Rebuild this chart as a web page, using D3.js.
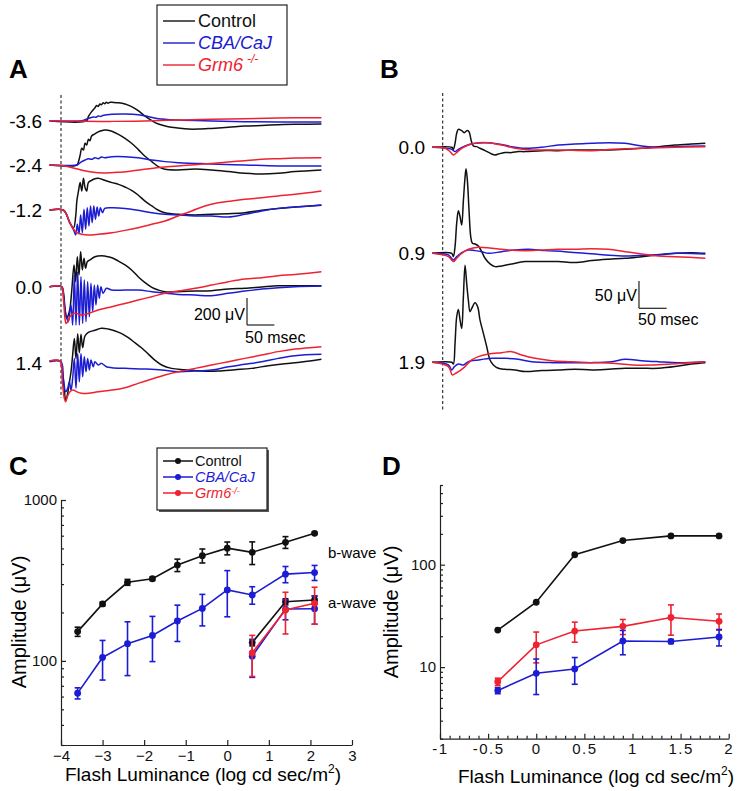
<!DOCTYPE html>
<html><head><meta charset="utf-8">
<script src="https://cdn.jsdelivr.net/npm/d3@7"></script>
<style>
body{margin:0;background:#fff}
svg{display:block;font-family:"Liberation Sans",Arial,Helvetica,sans-serif}
</style>
</head><body>
<svg id="fig" width="744" height="791"></svg>
<script>
// ---------------- DATA ----------------
const seriesNames = ["Control", "CBA/CaJ", "Grm6"];
const seriesColors = ["#111111", "#1c1cd2", "#ee2230"];

// Panel A: flash levels (log cd s/m2) and traces [time ms, amplitude µV]
const levelsA = ["-3.6", "-2.4", "-1.2", "0.0", "1.4"];
const aCtrl_m36 = [[-21,0],[47,0],[50,30],[56,67],[62,95],[65,112],[68,106],[71,124],[74,118],[77,133],[80,126],[83,136],[86,130],[90,137],[93,136],[105,133],[117,124],[129,104],[141,74],[153,35],[166,0],[178,-25],[196,-44],[214,-54],[233,-62],[251,-62],[275,-57],[306,-49],[336,-40],[367,-35],[397,-30],[428,-27],[476,-25]];
const aCba_m36 = [[-21,0],[38,0],[50,17],[60,28],[64,25],[68,35],[72,32],[78,40],[93,47],[117,49],[141,44],[160,30],[178,15],[214,5],[275,-2],[336,-7],[397,-10],[476,-10]];
const aGrm_m36 = [[-21,0],[32,-3],[93,-5],[153,-2],[214,5],[275,10],[336,15],[397,20],[476,22]];

const aCtrl_m24 = [[-21,0],[29,0],[32,25],[35,74],[38,124],[41,111],[44,161],[47,148],[50,190],[53,180],[56,215],[62,230],[68,245],[74,254],[80,259],[86,257],[93,250],[105,227],[117,198],[129,161],[141,116],[153,67],[166,25],[178,-12],[190,-32],[214,-37],[245,-30],[275,-37],[306,-49],[336,-62],[367,-67],[397,-62],[428,-49],[476,-37]];
const aCba_m24 = [[-21,0],[29,0],[32,7],[38,25],[44,37],[50,47],[56,42],[62,54],[68,47],[74,59],[80,54],[93,62],[117,62],[141,54],[166,37],[190,25],[214,17],[245,12],[275,7],[336,0],[397,-7],[476,-7]];
const aGrm_m24 = [[-21,0],[7,-7],[32,-32],[56,-52],[80,-59],[105,-54],[129,-44],[153,-32],[184,-17],[214,-7],[245,2],[275,12],[306,22],[336,32],[367,42],[397,47],[428,52],[476,54]];

const aCtrl_m12 = [[-21,0],[4,0],[10,-32],[16,-94],[23,-131],[27,-40],[29,67],[32,141],[35,203],[38,141],[41,235],[44,165],[47,141],[50,203],[56,220],[62,232],[68,235],[80,220],[93,203],[105,190],[117,170],[129,146],[141,111],[153,67],[166,30],[178,-2],[190,-20],[214,-32],[245,-37],[275,-32],[306,-27],[336,-20],[367,-2],[397,12],[428,22],[476,35]];
const aCba_m12 = [[-21,0],[4,0],[10,-32],[16,-94],[19.5,-119],[23.8,-156],[26.8,-185],[29.8,-106],[32.9,-175],[35.9,-37],[39,-168],[42,5],[45,-143],[48,17],[51,-119],[54,30],[57,-94],[60,30],[63,-69],[66,22],[69,-44],[72,17],[76,-20],[80,12],[93,17],[117,12],[141,-2],[166,-20],[190,-32],[214,-37],[245,-44],[275,-44],[306,-52],[336,-32],[367,-7],[397,12],[428,22],[476,37]];
const aGrm_m12 = [[-21,0],[4,0],[10,-32],[16,-94],[23,-143],[29,-168],[38,-180],[50,-185],[68,-180],[93,-168],[117,-151],[141,-131],[166,-106],[190,-82],[214,-44],[239,-7],[263,30],[287,54],[312,67],[336,79],[367,91],[397,104],[428,116],[476,141]];

const aCtrl_00 = [[-21,0],[1.2,0],[4.3,-37],[7.3,-161],[10.4,-235],[13.4,-210],[16.4,-161],[19.5,-37],[23.8,161],[26.8,37],[29.8,222],[32.9,86],[35.9,259],[39,124],[42,210],[45,136],[48,185],[53,198],[62,222],[74,230],[80,227],[93,215],[105,190],[117,161],[129,124],[141,74],[153,32],[166,-5],[178,-25],[190,-37],[214,-37],[245,-32],[275,-30],[306,-17],[336,-12],[367,-2],[397,7],[428,7],[476,7]];
const aCba_00 = [[-21,0],[1.2,0],[4.3,-60],[7.3,-170],[9.1,-210],[13.4,-259],[18.3,-136],[21.3,-284],[24.4,86],[27.4,-284],[30.5,111],[33.5,-284],[36.5,74],[39.6,-272],[42.6,49],[45.7,-259],[48.7,37],[51.8,-222],[54.8,25],[57.9,-185],[60.9,12],[63.9,-136],[67,12],[70,-86],[73,0],[77,-49],[83,-12],[93,-25],[117,-25],[141,-25],[166,-37],[190,-49],[214,-57],[245,-62],[275,-67],[306,-49],[336,-32],[367,-17],[397,-7],[428,0],[476,5]];
const aGrm_00 = [[-21,0],[1.2,0],[4.3,-86],[7.3,-235],[9.1,-272],[12.2,-259],[16.4,-222],[22.5,-198],[28.6,-198],[37.8,-210],[50,-198],[68,-173],[93,-148],[117,-124],[141,-99],[166,-74],[190,-49],[214,-32],[245,-12],[275,12],[306,37],[336,57],[367,67],[397,82],[428,91],[476,111]];

const aCtrl_14 = [[-21,12],[-1.8,12],[2.4,-67],[6.1,-203],[8.5,-277],[11.6,-240],[14.6,-165],[18.3,-67],[21.3,57],[24.4,180],[27.4,30],[30.5,215],[33.5,74],[36.5,210],[39.6,111],[43.8,198],[50,225],[62,240],[74,255],[86,250],[99,235],[111,215],[123,185],[135,148],[147,111],[160,62],[172,17],[184,-17],[202,-42],[227,-52],[257,-62],[287,-62],[318,-52],[348,-42],[379,-22],[409,-7],[440,5],[476,25]];
const aCba_14 = [[-21,7],[0,7],[4.3,-116],[8.5,-215],[12.2,-190],[15.2,-141],[18.3,-203],[21.3,-116],[24.4,32],[27.4,-190],[30.5,69],[33.5,-141],[36.5,69],[39.6,-104],[42.6,44],[45.7,-67],[48.7,32],[51.8,-54],[54.8,20],[59,-30],[62,7],[68,-17],[74,-5],[83,-30],[93,-37],[117,-42],[153,-47],[184,-54],[214,-67],[245,-62],[275,-54],[306,-30],[336,-12],[367,7],[397,32],[428,52],[476,62]];
const aGrm_14 = [[-21,12],[-1.8,12],[2.4,-141],[6.1,-264],[8.5,-289],[11.6,-252],[16.4,-215],[22.5,-203],[28.6,-215],[37.8,-227],[50,-227],[68,-215],[93,-203],[117,-185],[141,-153],[166,-121],[190,-91],[214,-67],[245,-42],[275,-17],[306,7],[336,32],[367,57],[397,82],[428,101],[476,119]];

// Panel B
const levelsB = ["0.0", "0.9", "1.9"];
const bCtrl_00 = [[-19,0],[16.3,0],[19.3,-3.7],[22.3,7.3],[25.3,25.6],[28.3,32.9],[34.4,30.5],[39.2,26.8],[43.4,30.5],[47.6,28.6],[51.3,13.4],[55.5,2.4],[61.5,1.2],[67.5,-1.8],[76.6,-6.1],[88.6,-12.2],[94.7,-14],[100.7,-12.2],[112.8,-9.7],[124.8,-9.7],[136.9,-7.9],[148.9,-7.9],[179,-6.1],[209,-6.1],[239,-4.9],[270,-4.9],[300,-4.9],[330,-3.7],[360,-1.8],[390,1.2],[420,4.3],[450,6.1],[475,7.3]];
const bCba_00 = [[-19,0],[16.3,-3.7],[22.3,-7.9],[28.3,-3.7],[40.4,2.4],[58.5,7.3],[76.6,8.5],[100.7,6.1],[124.8,1.2],[148.9,-1.8],[179,0],[209,4.3],[239,6.1],[270,7.3],[300,8.5],[330,7.3],[360,2.4],[390,0],[420,1.2],[475,2.4]];
const bGrm_00 = [[-19,0],[4.2,-1.8],[13.3,-7.9],[19.3,-14],[25.3,-9.7],[34.4,-1.8],[46.4,4.3],[64.5,8.5],[82.6,8.5],[106.7,4.3],[130.9,-1.8],[161,-4.9],[209,-4.9],[270,-6.1],[306,-3.7],[360,-1.8],[420,0],[475,1.2]];

const bCtrl_09 = [[-19,0],[16.3,0],[19.3,-6.1],[22.3,12.2],[25.3,54.8],[28.3,77.9],[31.4,66.9],[34.4,51.8],[37.4,96.2],[40.4,139],[42.2,155],[44.6,134],[47.6,79.2],[50.7,30.5],[53.7,18.3],[58.5,17],[64.5,13.4],[70.6,3],[76.6,-9.1],[85.6,-19.5],[94.7,-24.4],[106.7,-23.1],[124.8,-19.5],[148.9,-15.2],[179,-15.2],[209,-15.2],[239,-17],[270,-13.4],[300,-11],[330,-9.1],[360,-6.1],[390,-3],[420,0],[450,1.2],[475,0]];
const bCba_09 = [[-19,0],[10.3,-3],[19.3,-12.2],[25.3,-6.1],[34.4,1.2],[46.4,6.1],[58.5,4.9],[70.6,3],[82.6,0],[106.7,3],[130.9,6.1],[155,7.3],[185,4.9],[221,3],[257,0],[294,-3],[330,-4.9],[378,-3],[426,0],[475,-1.2]];
const bGrm_09 = [[-19,0],[10.3,-6.1],[19.3,-15.2],[25.3,-9.1],[34.4,0],[46.4,7.3],[64.5,11],[88.6,9.1],[118.8,6.1],[148.9,4.9],[179,6.1],[209,7.3],[239,7.3],[270,8.5],[300,7.3],[330,3],[360,-1.2],[390,-4.9],[420,-6.1],[475,-9.1]];

const bCtrl_19 = [[-19,0],[16.3,0],[19.3,-3],[22.3,34.7],[25.3,83.4],[28.3,96.8],[31.4,77.3],[34.4,62.1],[37.4,119.9],[40.4,177.8],[43.4,144.3],[46.4,113.9],[49.4,92.6],[52.5,98.7],[58.5,109],[63.3,101.5],[67.5,77.3],[73.6,53],[79.6,28.6],[85.6,4.3],[91.7,-4.9],[100.7,-11],[112.8,-12.8],[130.9,-14],[148.9,-17],[179,-15.2],[209,-14],[239,-12.8],[270,-14],[300,-12.8],[330,-11],[360,-11],[390,-11],[420,-7.9],[450,-3],[475,-0.6]];
const bCba_19 = [[-19,0],[10.3,-4.9],[16.3,-14],[21.1,-7.9],[28.3,-3],[37.4,-4.9],[46.4,1.2],[64.5,4.3],[88.6,7.3],[112.8,7.3],[136.9,5.5],[161,1.2],[197,-0.6],[233,-0.6],[270,-0.6],[306,1.2],[330,5.5],[360,3],[390,1.2],[426,-0.6],[475,1.2]];
const bGrm_19 = [[-19,0],[10.3,-7.9],[17.5,-23.1],[23.5,-20.1],[31.4,-15.2],[40.4,-7.9],[52.5,4.3],[64.5,10.4],[82.6,15.2],[106.7,17.7],[124.8,19.5],[142.9,13.4],[167,7.3],[197,3],[233,1.2],[270,-0.6],[306,-1.8],[342,-4.9],[378,-4.9],[414,-3],[475,1.2]];

// Panel C: amplitude vs flash luminance
const lumC = [-3.6, -3.0, -2.4, -1.8, -1.2, -0.6, 0, 0.6, 1.4, 2.1];
const ctrlBwave = [152, 226, 308, 324, 394, 451, 502, 473, 546, 621];
const ctrlBwaveErr = [10, 6, 13, 8, 35, 45, 46, 76, 46, 10];
const cbaBwave = [63, 105, 128, 144, 177, 212, 276, 257, 346, 354];
const cbaBwaveErr = [5, 29, 47, 45, 45, 47, 88, 32, 40, 38];
const lumCa = [0.6, 1.4, 2.1];
const ctrlAwave = [130, 233, 239];
const ctrlAwaveErr = [6, 10, 14];
const cbaAwave = [107, 210, 211];
const cbaAwaveErr = [28, 30, 42];
const grmAwave = [112, 207, 228];
const grmAwaveErr = [32, 60, 59];
const ticksCx = [-4, -3, -2, -1, 0, 1, 2, 3];

// Panel D
const lumD = [-0.4, 0, 0.4, 0.9, 1.4, 1.9];
const ctrlD = [23, 43, 125, 172, 191, 191];
const ctrlDErr = [0, 0, 0, 0, 0, 0];
const grmD = [7.2, 16.5, 22.5, 25, 30.5, 28];
const grmDErr = [0.6, 5.5, 5, 4.2, 10, 5];
const cbaD = [5.9, 8.7, 9.6, 18, 17.8, 19.7];
const cbaDErr = [0.4, 3.3, 2.8, 4.8, 0.8, 3.6];
const ticksDx = [-1, -0.5, 0, 0.5, 1, 1.5, 2];

// ---------------- DRAWING ----------------
const svg = d3.select("#fig");
const [BLK, BLU, RD] = seriesColors;

function panelLetter(t, x, y) {
  svg.append("text").attr("x", x).attr("y", y).attr("font-size", 26).attr("font-weight", "bold").text(t);
}
panelLetter("A", 9, 78); panelLetter("B", 380, 78); panelLetter("C", 9, 475); panelLetter("D", 382, 475);

// legend A
const lgA = svg.append("g");
lgA.append("rect").attr("x", 157).attr("y", 5).attr("width", 130).attr("height", 80).attr("fill", "#fff").attr("stroke", "#222").attr("stroke-width", 1.2);
[21, 43, 65].forEach((yy, i) => {
  lgA.append("line").attr("x1", 163).attr("x2", 195).attr("y1", yy).attr("y2", yy).attr("stroke", seriesColors[i]).attr("stroke-width", 1.4);
  const t = lgA.append("text").attr("x", 198).attr("y", yy + 6).attr("font-size", 18).attr("fill", seriesColors[i]);
  if (i === 0) t.text(seriesNames[0]);
  else if (i === 1) t.attr("font-style", "italic").text(seriesNames[1]);
  else {
    t.attr("font-style", "italic").text(seriesNames[2]);
    t.append("tspan").attr("dx", 4).attr("dy", -8).attr("font-size", 12).text("-/-");
  }
});

// Panel A traces
const xA = d3.scaleLinear().domain([-20, 480]).range([50.06, 323.6]);
const vA = d3.scaleLinear().domain([0, 200]).range([0, -27]);
const baseA = [120.7, 165, 210, 286.7, 362.7];
const tracesA = [
  [aCtrl_m36, aCba_m36, aGrm_m36],
  [aCtrl_m24, aCba_m24, aGrm_m24],
  [aCtrl_m12, aCba_m12, aGrm_m12],
  [aCtrl_00, aCba_00, aGrm_00],
  [aCtrl_14, aCba_14, aGrm_14]
];
svg.append("line").attr("x1", xA(0)).attr("x2", xA(0)).attr("y1", 95).attr("y2", 398)
  .attr("stroke", "#222").attr("stroke-width", 1.1).attr("stroke-dasharray", "3,2.5");
tracesA.forEach((set, li) => {
  const g = svg.append("g").attr("transform", `translate(0,${baseA[li]})`);
  set.forEach((tr, si) => {
    const line = d3.line().x(d => xA(d[0])).y(d => vA(d[1])).curve(d3.curveCatmullRom.alpha(0.5));
    g.append("path").attr("d", line(tr)).attr("fill", "none").attr("stroke", seriesColors[si]).attr("stroke-width", 1.5);
  });
  svg.append("text").attr("x", 42).attr("y", baseA[li]).attr("dy", "0.36em").attr("text-anchor", "end").attr("font-size", 19).text(levelsA[li]);
});
// scale bar A
{
  const x0 = xA(340), y0 = 325;
  const g = svg.append("g").attr("stroke", "#222").attr("stroke-width", 1.2);
  g.append("line").attr("x1", x0).attr("x2", x0).attr("y1", y0 + vA(200)).attr("y2", y0);
  g.append("line").attr("x1", x0).attr("x2", x0 + xA(50) - xA(0)).attr("y1", y0).attr("y2", y0);
  svg.append("text").attr("x", x0 - 2).attr("y", y0 - 5).attr("text-anchor", "end").attr("font-size", 16).text("200 μV");
  svg.append("text").attr("x", x0 - 2).attr("y", y0 + 18).attr("font-size", 16).text("50 msec");
}

// Panel B traces
const xB = d3.scaleLinear().domain([-20, 480]).range([431.64, 708.1]);
const vB = d3.scaleLinear().domain([0, 50]).range([0, -27.3]);
const baseB = [147.3, 253.3, 362.3];
const tracesB = [
  [bCtrl_00, bCba_00, bGrm_00],
  [bCtrl_09, bCba_09, bGrm_09],
  [bCtrl_19, bCba_19, bGrm_19]
];
svg.append("line").attr("x1", xB(0)).attr("x2", xB(0)).attr("y1", 93).attr("y2", 412)
  .attr("stroke", "#222").attr("stroke-width", 1.1).attr("stroke-dasharray", "3,2.5");
tracesB.forEach((set, li) => {
  const g = svg.append("g").attr("transform", `translate(0,${baseB[li]})`);
  set.forEach((tr, si) => {
    const line = d3.line().x(d => xB(d[0])).y(d => vB(d[1])).curve(d3.curveCatmullRom.alpha(0.5));
    g.append("path").attr("d", line(tr)).attr("fill", "none").attr("stroke", seriesColors[si]).attr("stroke-width", 1.5);
  });
  svg.append("text").attr("x", 425).attr("y", baseB[li]).attr("dy", "0.36em").attr("text-anchor", "end").attr("font-size", 19).text(levelsB[li]);
});
{
  const x0 = xB(355), y0 = 308.3;
  const g = svg.append("g").attr("stroke", "#222").attr("stroke-width", 1.2);
  g.append("line").attr("x1", x0).attr("x2", x0).attr("y1", y0 + vB(50)).attr("y2", y0);
  g.append("line").attr("x1", x0).attr("x2", x0 + xB(50) - xB(0)).attr("y1", y0).attr("y2", y0);
  svg.append("text").attr("x", x0 - 2).attr("y", y0 - 7).attr("text-anchor", "end").attr("font-size", 16).text("50 μV");
  svg.append("text").attr("x", x0 - 1).attr("y", y0 + 17).attr("font-size", 16).text("50 msec");
}

// ---- helpers for C & D
function logAxis(g, y, xPos, domain, labels) {
  const lo = domain[0], hi = domain[1];
  const major = [], minor = [];
  for (let p = Math.floor(Math.log10(lo)); p <= Math.ceil(Math.log10(hi)); p++) {
    for (let m = 1; m <= 9; m++) {
      const v = m * Math.pow(10, p);
      if (v < lo - 1e-9 || v > hi + 1e-9) continue;
      if (m === 1) major.push(v); else minor.push(v);
    }
  }
  const ax = g.append("g").attr("transform", `translate(${xPos},0)`);
  ax.call(d3.axisLeft(y).tickValues(major).tickSizeInner(-5).tickSizeOuter(0).tickPadding(4)
    .tickFormat(d => labels.includes(d) ? d3.format("d")(d) : ""));
  ax.append("g").call(d3.axisLeft(y).tickValues(minor).tickSizeInner(-3).tickSizeOuter(0).tickFormat(""))
    .select(".domain").remove();
  ax.selectAll("text").attr("font-size", 15).attr("font-family", null).attr("fill", "#111");
  ax.selectAll("line,path").attr("stroke", "#222").attr("stroke-width", 1.2);
  return ax;
}
function plotSeries(g, x, y, xs, ys, errs, color) {
  const pts = xs.map((d, i) => [d, ys[i], errs[i]]);
  g.append("path").attr("d", d3.line().x(d => x(d[0])).y(d => y(d[1]))(pts))
    .attr("fill", "none").attr("stroke", color).attr("stroke-width", 1.6);
  pts.forEach(d => {
    if (d[2] > 0) {
      const eg = g.append("g").attr("stroke", color).attr("stroke-width", 1.6);
      const cx = x(d[0]);
      eg.append("line").attr("x1", cx).attr("x2", cx).attr("y1", y(d[1] - d[2])).attr("y2", y(d[1] + d[2]));
      eg.append("line").attr("x1", cx - 3).attr("x2", cx + 3).attr("y1", y(d[1] - d[2])).attr("y2", y(d[1] - d[2]));
      eg.append("line").attr("x1", cx - 3).attr("x2", cx + 3).attr("y1", y(d[1] + d[2])).attr("y2", y(d[1] + d[2]));
    }
    g.append("circle").attr("cx", x(d[0])).attr("cy", y(d[1])).attr("r", 3.4).attr("fill", color);
  });
}
function xTitle(x, y) {
  const t = svg.append("text").attr("x", x).attr("y", y).attr("text-anchor", "middle").attr("font-size", 19);
  t.append("tspan").text("Flash Luminance (log cd sec/m");
  t.append("tspan").attr("dy", -8).attr("font-size", 12).text("2");
  t.append("tspan").attr("dy", 8).text(")");
}
function yTitle(x, y) {
  svg.append("text").attr("transform", `translate(${x},${y}) rotate(-90)`).attr("text-anchor", "middle")
    .attr("font-size", 20).text("Amplitude (μV)");
}

// Panel C
const xC = d3.scaleLinear().domain([-4, 3]).range([61, 352]);
const yC = d3.scaleLog().domain([30, 1000]).range([745, 500]);
const gC = svg.append("g");
logAxis(gC, yC, 61, [30, 1000], [100, 1000]);
{
  const ax = gC.append("g").attr("transform", "translate(0,745)")
    .call(d3.axisBottom(xC).tickValues(ticksCx).tickSizeInner(-5).tickSizeOuter(0).tickPadding(5).tickFormat(d3.format("d")));
  ax.selectAll("text").attr("font-size", 15).attr("font-family", null).attr("fill", "#111");
  ax.selectAll("line,path").attr("stroke", "#222").attr("stroke-width", 1.2);
}
plotSeries(gC, xC, yC, lumC, ctrlBwave, ctrlBwaveErr, BLK);
plotSeries(gC, xC, yC, lumC, cbaBwave, cbaBwaveErr, BLU);
plotSeries(gC, xC, yC, lumCa, ctrlAwave, ctrlAwaveErr, BLK);
plotSeries(gC, xC, yC, lumCa, cbaAwave, cbaAwaveErr, BLU);
plotSeries(gC, xC, yC, lumCa, grmAwave, grmAwaveErr, RD);
svg.append("text").attr("x", 328).attr("y", 558).attr("font-size", 15).text("b-wave");
svg.append("text").attr("x", 328).attr("y", 608).attr("font-size", 15).text("a-wave");
xTitle(203, 781);
yTitle(26, 622);
// legend C
{
  const g = svg.append("g");
  g.append("rect").attr("x", 159).attr("y", 450).attr("width", 110).attr("height", 62).attr("fill", "#555");
  g.append("rect").attr("x", 157).attr("y", 448).attr("width", 110).attr("height", 62).attr("fill", "#fff").attr("stroke", "#222").attr("stroke-width", 1.2);
  [461, 477, 493].forEach((yy, i) => {
    g.append("line").attr("x1", 163).attr("x2", 193).attr("y1", yy).attr("y2", yy).attr("stroke", seriesColors[i]).attr("stroke-width", 1.5);
    g.append("circle").attr("cx", 178).attr("cy", yy).attr("r", 3).attr("fill", seriesColors[i]);
    const t = g.append("text").attr("x", 195).attr("y", yy + 5).attr("font-size", 14.5).attr("fill", seriesColors[i]);
    if (i === 0) t.text(seriesNames[0]);
    else if (i === 1) t.attr("font-style", "italic").text(seriesNames[1]);
    else {
      t.attr("font-style", "italic").text(seriesNames[2]);
      t.append("tspan").attr("dy", -4).attr("font-size", 9).text("-/-");
    }
  });
}

// Panel D
const xD = d3.scaleLinear().domain([-1, 2]).range([440, 728.7]);
const yD = d3.scaleLog().domain([2, 600]).range([738.7, 485]);
const gD = svg.append("g");
logAxis(gD, yD, 440, [2, 600], [10, 100]);
{
  const ax = gD.append("g").attr("transform", "translate(0,738.7)")
    .call(d3.axisBottom(xD).tickValues(ticksDx).tickSizeInner(-5).tickSizeOuter(0).tickPadding(5)
      .tickFormat(d => String(d)));
  ax.append("g").call(d3.axisBottom(xD).tickValues(d3.range(-10, 21).map(v => v / 10).filter(v => Math.round(v * 10) % 5 !== 0))
      .tickSizeInner(-3).tickSizeOuter(0).tickFormat("")).select(".domain").remove();
  ax.selectAll("text").attr("font-size", 15).attr("font-family", null).attr("fill", "#111").attr("letter-spacing", 1.5);
  ax.selectAll("line,path").attr("stroke", "#222").attr("stroke-width", 1.2);
}
plotSeries(gD, xD, yD, lumD, ctrlD, ctrlDErr, BLK);
plotSeries(gD, xD, yD, lumD, grmD, grmDErr, RD);
plotSeries(gD, xD, yD, lumD, cbaD, cbaDErr, BLU);
xTitle(596, 783);
yTitle(398, 612);
</script>
</body></html>
